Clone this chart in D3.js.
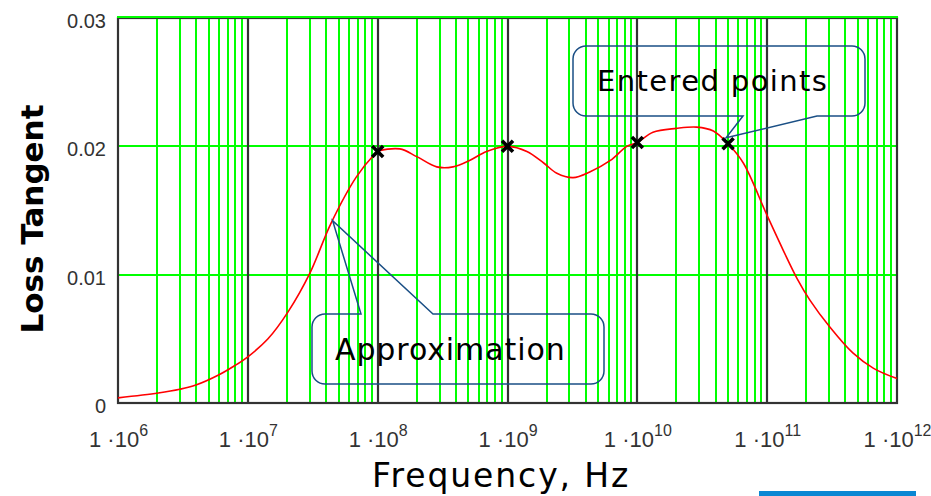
<!DOCTYPE html>
<html>
<head>
<meta charset="utf-8">
<script src="https://cdn.jsdelivr.net/npm/d3@7"></script>
<style>
  body { margin: 0; background: #fff; }
  svg { display: block; }
</style>
</head>
<body>
<svg id="chart" width="931" height="496"></svg>
<script>
// Loss tangent approximation curve (frequency in Hz)
const freqHz = [
  1e6, 2.04e6, 2.99e6, 3.98e6, 6e6, 7.9e6, 1e7, 1.43e7, 2.04e7, 3e7, 4.37e7,
  6.84e7, 9.5e7, 1e8, 1.48e8, 2e8, 2.85e8, 3.8e8, 5.1e8, 6.9e8, 1e9,
  1.41e9, 1.9e9, 2.4e9, 3.2e9, 4.3e9, 6.2e9, 8.3e9, 1e10, 1.32e10, 2e10,
  2.86e10, 3.85e10, 5e10, 6.55e10, 1e11, 1.33e11, 1.7e11, 2.14e11, 3.05e11,
  4.57e11, 6.6e11, 1e12
];
const lossTangent = [
  0.0004, 0.00078, 0.00107, 0.0014, 0.0022, 0.0029, 0.0036, 0.0050, 0.0071, 0.0101, 0.0140,
  0.0176, 0.0194, 0.0196, 0.0198, 0.0192, 0.0184, 0.0184, 0.0189, 0.0196, 0.0200,
  0.0196, 0.0187, 0.0179, 0.01756, 0.0180, 0.0189, 0.0200, 0.0203, 0.0211, 0.0214,
  0.0215, 0.0212, 0.0202, 0.0187, 0.0146, 0.0119, 0.0097, 0.0080, 0.0059,
  0.0039, 0.0027, 0.0019
];

// Points entered by the user
const enteredFreq = [1e8, 1e9, 1e10, 5e10];
const enteredLoss = [0.0196, 0.0200, 0.0203, 0.0202];

// Axis ticks
const decadeTicks = [1e6, 1e7, 1e8, 1e9, 1e10, 1e11, 1e12];
const decadeExponents = ["6", "7", "8", "9", "10", "11", "12"];
const lossTicks = [0, 0.01, 0.02, 0.03];
const lossTickLabels = ["0", "0.01", "0.02", "0.03"];

// Callout anchors (data units)
const approxAnchor = [4.5e7, 0.0142];
const enteredAnchorIndex = 3;

const svg = d3.select("#chart");
const plot = { left: 118, right: 897, top: 18, bottom: 403 };

const x = d3.scaleLog().domain([1e6, 1e12]).range([plot.left, plot.right]);
const y = d3.scaleLinear().domain([0, 0.03]).range([plot.bottom, plot.top]);

const GREEN = "#00ff00";
const DARK = "#333333";

// Minor log grid (2..9 x 10^k)
const minorTicks = [];
for (let e = 6; e < 12; e++) {
  for (let m = 2; m <= 9; m++) minorTicks.push(m * Math.pow(10, e));
}
svg.append("g").selectAll("line").data(minorTicks).join("line")
  .attr("x1", d => Math.round(x(d))).attr("x2", d => Math.round(x(d)))
  .attr("y1", plot.top).attr("y2", plot.bottom)
  .attr("stroke", GREEN).attr("stroke-width", 2);

// Horizontal grid
svg.append("g").selectAll("line").data(lossTicks.filter(d => d > 0 && d < 0.03)).join("line")
  .attr("x1", plot.left).attr("x2", plot.right)
  .attr("y1", d => Math.round(y(d))).attr("y2", d => Math.round(y(d)))
  .attr("stroke", GREEN).attr("stroke-width", 2);

// Decade grid lines
svg.append("g").selectAll("line").data(decadeTicks.slice(1, -1)).join("line")
  .attr("x1", d => Math.round(x(d))).attr("x2", d => Math.round(x(d)))
  .attr("y1", plot.top).attr("y2", plot.bottom)
  .attr("stroke", DARK).attr("stroke-width", 2.2);

// Frame
svg.append("rect")
  .attr("x", plot.left).attr("y", plot.top)
  .attr("width", plot.right - plot.left).attr("height", plot.bottom - plot.top)
  .attr("fill", "none").attr("stroke", DARK).attr("stroke-width", 2.2);
svg.append("line")
  .attr("x1", plot.left - 1).attr("x2", plot.right + 1)
  .attr("y1", y(0.03) - 1).attr("y2", y(0.03) - 1)
  .attr("stroke", GREEN).attr("stroke-width", 2);

// Approximation curve
const curveData = freqHz.map((f, i) => [f, lossTangent[i]]);
svg.append("path")
  .datum(curveData)
  .attr("fill", "none")
  .attr("stroke", "#ff0000")
  .attr("stroke-width", 1.6)
  .attr("d", d3.line().x(d => x(d[0])).y(d => y(d[1])).curve(d3.curveCatmullRom.alpha(0.5)));

// Entered point markers
const pts = enteredFreq.map((f, i) => [f, enteredLoss[i]]);
svg.append("g").selectAll("path").data(pts).join("path")
  .attr("transform", d => `translate(${x(d[0])},${y(d[1])})`)
  .attr("d", "M-5.5,-5.5L5.5,5.5M5.5,-5.5L-5.5,5.5")
  .attr("stroke", "#000").attr("stroke-width", 3.6).attr("fill", "none");

// Axes
const yAxis = svg.append("g")
  .attr("transform", `translate(${plot.left},0)`)
  .call(d3.axisLeft(y).tickValues(lossTicks).tickFormat((d, i) => lossTickLabels[i]).tickSize(0).tickPadding(12));
yAxis.select(".domain").remove();
yAxis.selectAll("text")
  .attr("dy", "0.47em")
  .attr("font-family", "'Liberation Sans', Arial, sans-serif")
  .attr("font-size", 20)
  .attr("fill", DARK);

const xAxis = svg.append("g")
  .attr("transform", `translate(0,${plot.bottom})`)
  .call(d3.axisBottom(x).tickValues(decadeTicks).tickFormat(() => "").tickSize(0));
xAxis.select(".domain").remove();
xAxis.selectAll("text")
  .attr("y", 44).attr("dy", null)
  .attr("font-family", "'Liberation Sans', Arial, sans-serif")
  .attr("font-size", 22)
  .attr("fill", DARK)
  .each(function (d, i) {
    const t = d3.select(this);
    t.append("tspan").text("1 \u00b710");
    t.append("tspan").attr("dy", -11).attr("font-size", 16).text(decadeExponents[i]);
  });

// Axis titles
svg.append("text")
  .attr("x", 372).attr("y", 487)
  .attr("font-family", "'DejaVu Sans', Verdana, sans-serif")
  .attr("font-size", 33).attr("letter-spacing", 1.9)
  .attr("fill", "#000")
  .text("Frequency, Hz");

svg.append("text")
  .attr("transform", "translate(43,219) rotate(-90)")
  .attr("text-anchor", "middle")
  .attr("font-family", "'DejaVu Sans', Verdana, sans-serif")
  .attr("font-size", 31).attr("font-weight", "bold")
  .attr("fill", "#000")
  .text("Loss Tangent");

// Callouts
function callout(box, base, tip, side) {
  const { x0, y0, x1, y1, r } = box;
  const p = d3.path();
  p.moveTo(x0 + r, y0);
  if (side === "top") { p.lineTo(base[0], y0); p.lineTo(tip[0], tip[1]); p.lineTo(base[1], y0); }
  p.lineTo(x1 - r, y0);
  p.arcTo(x1, y0, x1, y0 + r, r);
  p.lineTo(x1, y1 - r);
  p.arcTo(x1, y1, x1 - r, y1, r);
  if (side === "bottom") { p.lineTo(base[1], y1); p.lineTo(tip[0], tip[1]); p.lineTo(base[0], y1); }
  p.lineTo(x0 + r, y1);
  p.arcTo(x0, y1, x0, y1 - r, r);
  p.lineTo(x0, y0 + r);
  p.arcTo(x0, y0, x0 + r, y0, r);
  p.closePath();
  return p.toString();
}
const CALLOUT = "#1a4f85";

const ep = pts[enteredAnchorIndex];
svg.append("path")
  .attr("d", callout({ x0: 573, y0: 46, x1: 865, y1: 116, r: 13 }, [743, 817],
    [x(ep[0]) - 2, y(ep[1]) - 6], "bottom"))
  .attr("fill", "none").attr("stroke", CALLOUT).attr("stroke-width", 1.5);
svg.append("text")
  .attr("x", 597).attr("y", 91)
  .attr("font-family", "'DejaVu Sans', Verdana, sans-serif")
  .attr("font-size", 29).attr("letter-spacing", 1.4)
  .attr("fill", "#000")
  .text("Entered points");

svg.append("path")
  .attr("d", callout({ x0: 312, y0: 314, x1: 604, y1: 384, r: 13 }, [361, 433],
    [x(approxAnchor[0]), y(approxAnchor[1])], "top"))
  .attr("fill", "none").attr("stroke", CALLOUT).attr("stroke-width", 1.5);
svg.append("text")
  .attr("x", 335).attr("y", 360)
  .attr("font-family", "'DejaVu Sans', Verdana, sans-serif")
  .attr("font-size", 30).attr("letter-spacing", 0.9)
  .attr("fill", "#000")
  .text("Approximation");

// Bar at bottom-right edge
svg.append("rect")
  .attr("x", 759).attr("y", 491).attr("width", 157).attr("height", 5)
  .attr("fill", "#0a87d3");
</script>
</body>
</html>
